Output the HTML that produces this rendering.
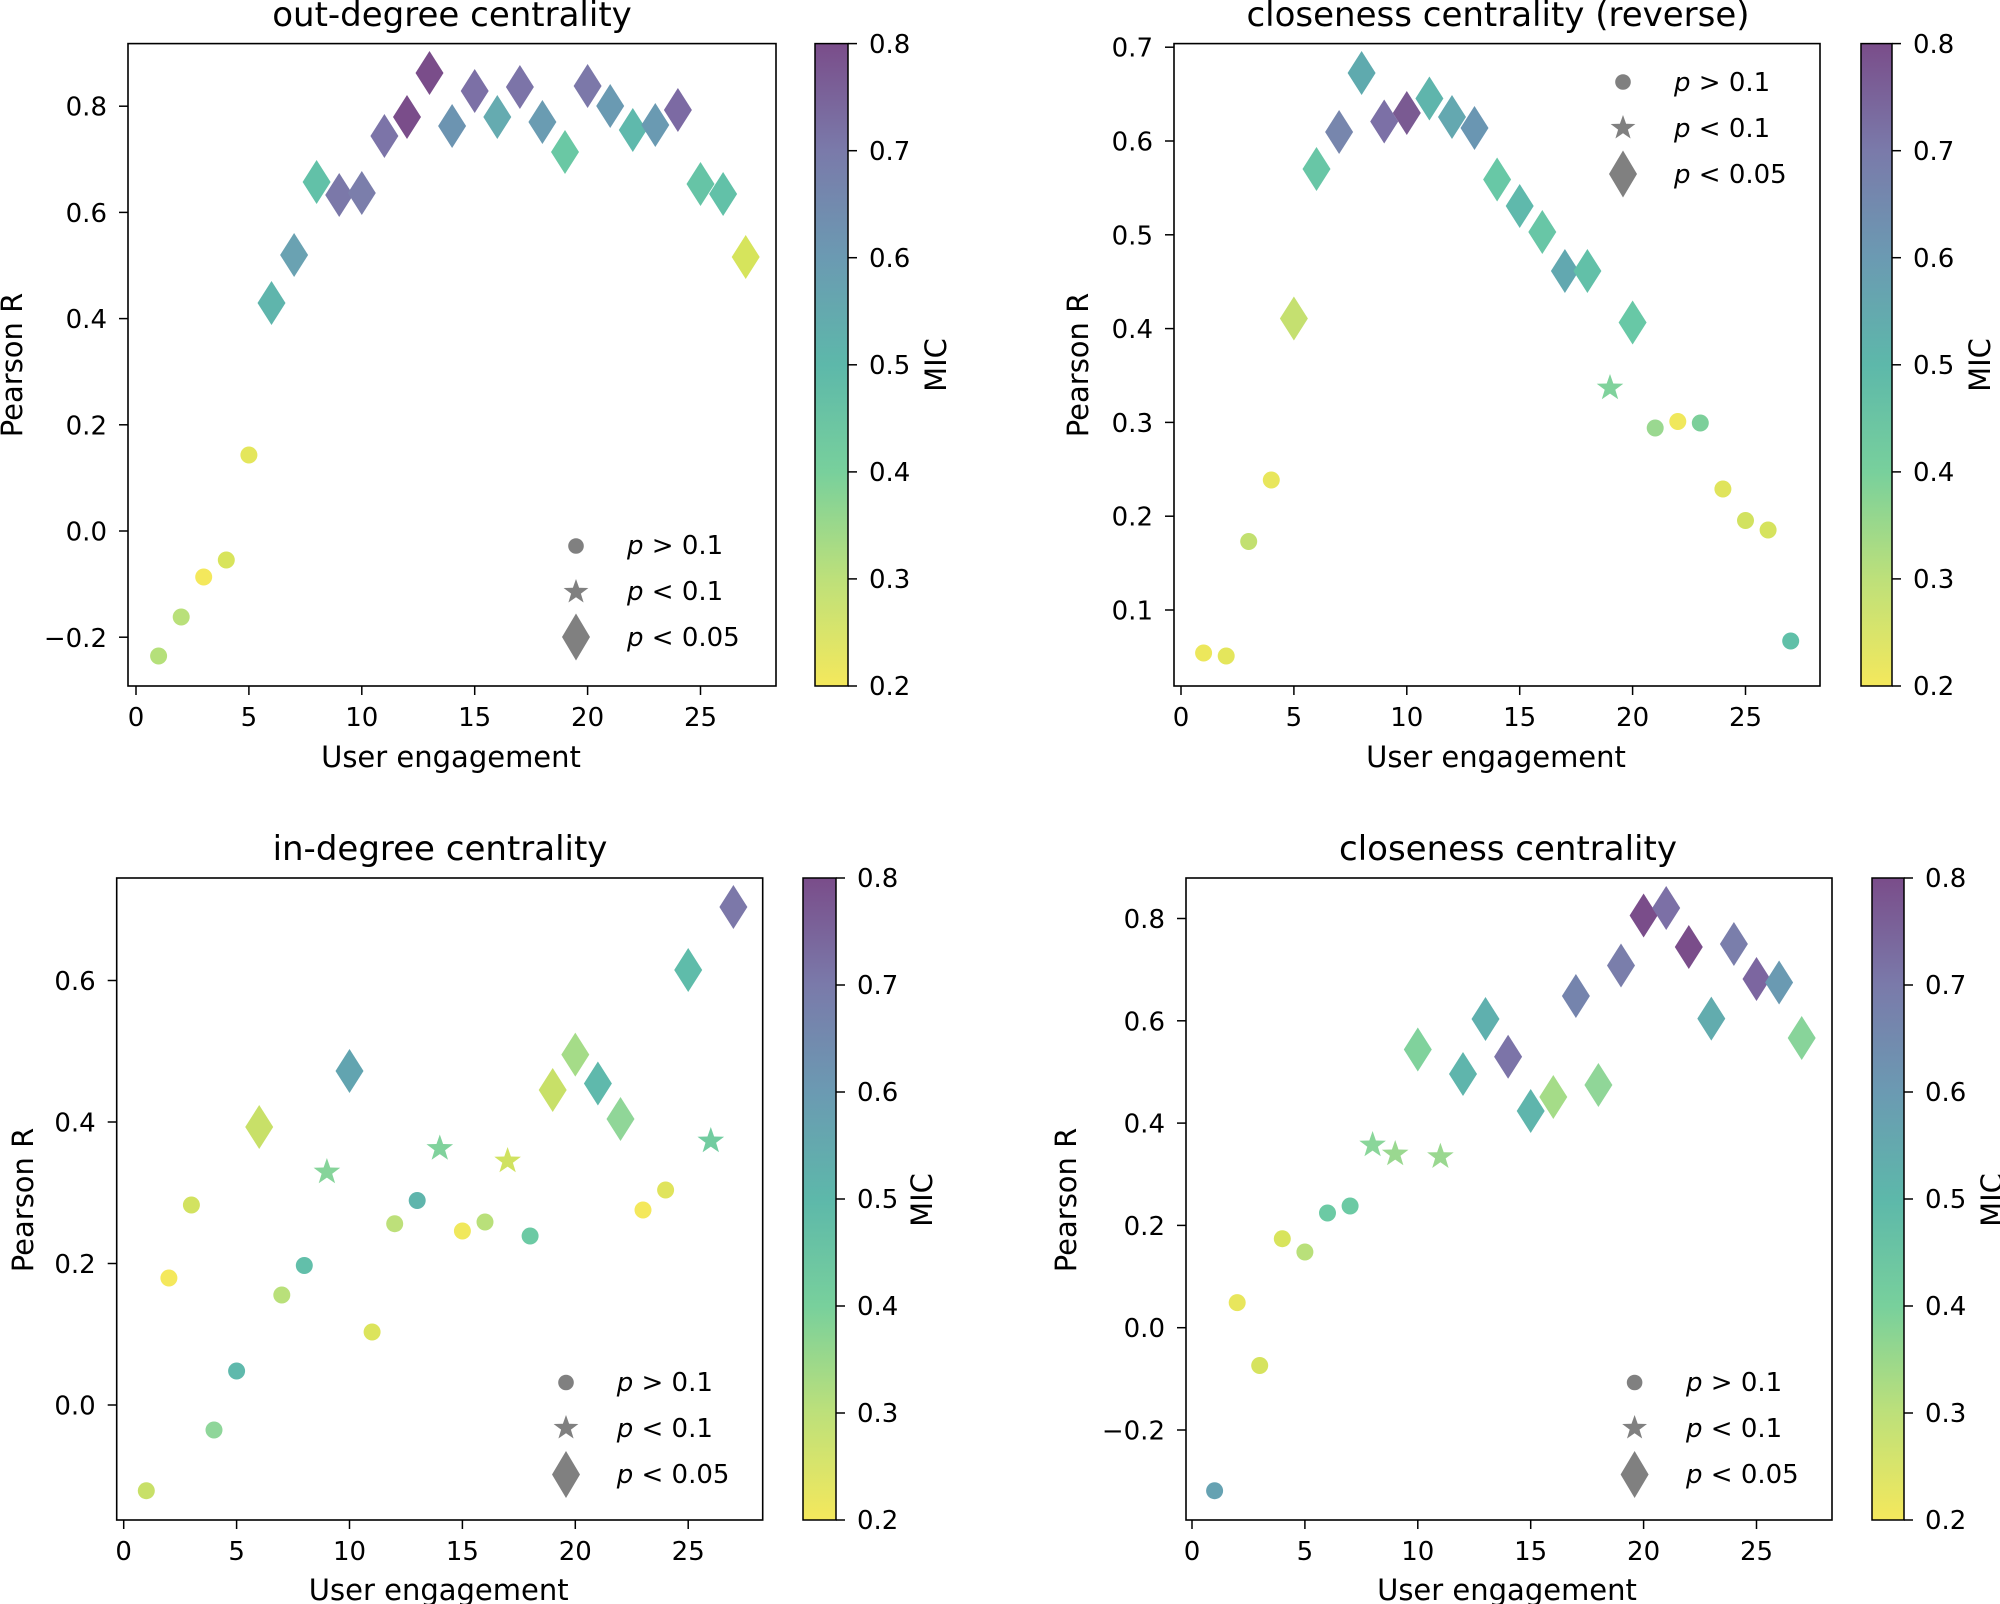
<!DOCTYPE html>
<html><head><meta charset="utf-8"><style>
html,body{margin:0;padding:0;background:#fff}
svg{display:block}
text{font-family:"DejaVu Sans","Liberation Sans",sans-serif;fill:#000}
.t{font-size:26px}
.l{font-size:29px}
.ti{font-size:34px}
.lg{font-size:26px}
</style></head><body>
<svg width="2000" height="1604" viewBox="0 0 2000 1604" xmlns="http://www.w3.org/2000/svg">
<defs>
<path id="d" d="M0,-22 L14,0 L0,22 L-14,0Z"/>
<path id="s" d="M0,-14 L3.3,-4.5 L13.3,-4.3 L5.3,1.7 L8.2,11.3 L0,5.6 L-8.2,11.3 L-5.3,1.7 L-13.3,-4.3 L-3.3,-4.5Z"/>
<circle id="c" r="8.5" cx="0" cy="0"/>
<circle id="lc" r="7.8" cx="0" cy="0"/>
<path id="ls" d="M0,-13 L3.1,-4.2 L12.4,-4 L4.9,1.6 L7.6,10.5 L0,5.2 L-7.6,10.5 L-4.9,1.6 L-12.4,-4 L-3.1,-4.2Z"/>
<path id="ld" d="M0,-23.5 L14,0 L0,23.5 L-14,0Z"/>
<linearGradient id="vir" x1="0" y1="1" x2="0" y2="0">
<stop offset="0" stop-color="#f4e85c"/>
<stop offset="0.167" stop-color="#bde07a"/>
<stop offset="0.333" stop-color="#78d09c"/>
<stop offset="0.5" stop-color="#5db8aa"/>
<stop offset="0.667" stop-color="#6b9ab2"/>
<stop offset="0.833" stop-color="#7a7aaa"/>
<stop offset="1" stop-color="#7a4d8a"/>
</linearGradient>
</defs>

<!-- ================= TL ================= -->
<text x="452" y="26" class="ti" text-anchor="middle">out-degree centrality</text>
<g transform="translate(136,0)">
<rect x="-8" y="43.6" width="648" height="642.4" fill="none" stroke="#000" stroke-width="1.6"/>
<g stroke="#000" stroke-width="1.5">
<line x1="-8" x2="-17" y1="637.2" y2="637.2"/><line x1="-8" x2="-17" y1="531" y2="531"/><line x1="-8" x2="-17" y1="424.8" y2="424.8"/><line x1="-8" x2="-17" y1="318.6" y2="318.6"/><line x1="-8" x2="-17" y1="212.4" y2="212.4"/><line x1="-8" x2="-17" y1="106.2" y2="106.2"/>
<line x1="0" x2="0" y1="686" y2="695"/><line x1="112.9" x2="112.9" y1="686" y2="695"/><line x1="225.8" x2="225.8" y1="686" y2="695"/><line x1="338.7" x2="338.7" y1="686" y2="695"/><line x1="451.6" x2="451.6" y1="686" y2="695"/><line x1="564.5" x2="564.5" y1="686" y2="695"/>
</g>
<g class="t" text-anchor="end">
<text x="-29" y="647">−0.2</text><text x="-29" y="540.5">0.0</text><text x="-29" y="434.5">0.2</text><text x="-29" y="328">0.4</text><text x="-29" y="222">0.6</text><text x="-29" y="115.5">0.8</text>
</g>
<g class="t" text-anchor="middle">
<text x="0" y="726">0</text><text x="112.9" y="726">5</text><text x="225.8" y="726">10</text><text x="338.7" y="726">15</text><text x="451.6" y="726">20</text><text x="564.5" y="726">25</text>
</g>
<text x="315" y="767" class="l" text-anchor="middle">User engagement</text>
<use href="#c" x="22.6" y="656" fill="#b5e07a"/>
<use href="#c" x="45.2" y="617" fill="#b9e07a"/>
<use href="#c" x="67.7" y="577" fill="#f4e85c"/>
<use href="#c" x="90.3" y="560" fill="#d8e45c"/>
<use href="#c" x="112.9" y="455" fill="#e4e65c"/>
<use href="#d" x="135.5" y="303" fill="#5fb5ac"/>
<use href="#d" x="158.1" y="255" fill="#6aa2b2"/>
<use href="#d" x="180.6" y="182" fill="#62c1a8"/>
<use href="#d" x="203.2" y="195" fill="#7b78a9"/>
<use href="#d" x="225.8" y="193" fill="#7b7eab"/>
<use href="#d" x="248.4" y="136" fill="#7c74a8"/>
<use href="#d" x="271" y="117" fill="#7a4d8a"/>
<use href="#d" x="293.5" y="73" fill="#7a4d8a"/>
<use href="#d" x="316.1" y="126" fill="#6c94b1"/>
<use href="#d" x="338.7" y="91" fill="#7c70a6"/>
<use href="#d" x="361.3" y="117" fill="#65abb0"/>
<use href="#d" x="383.9" y="87" fill="#7c74a8"/>
<use href="#d" x="406.4" y="122" fill="#6a9cb2"/>
<use href="#d" x="429" y="152" fill="#6ac8a4"/>
<use href="#d" x="451.6" y="86" fill="#7c78a9"/>
<use href="#d" x="474.2" y="106" fill="#6a9ab2"/>
<use href="#d" x="496.8" y="130" fill="#5fb9ac"/>
<use href="#d" x="519.3" y="125" fill="#6a9ab2"/>
<use href="#d" x="541.9" y="110" fill="#7c6aa3"/>
<use href="#d" x="564.5" y="184" fill="#66c4a6"/>
<use href="#d" x="587.1" y="194" fill="#62c1a8"/>
<use href="#d" x="609.7" y="257" fill="#d6e45c"/>
<g fill="#808080"><use href="#lc" x="440" y="546"/><use href="#ls" x="440" y="592"/><use href="#ld" x="440" y="637"/></g>
<g class="lg"><text x="491" y="554"><tspan font-style="italic">p</tspan> &gt; 0.1</text><text x="491" y="600"><tspan font-style="italic">p</tspan> &lt; 0.1</text><text x="491" y="646"><tspan font-style="italic">p</tspan> &lt; 0.05</text></g>
</g>
<text transform="translate(22,365) rotate(-90)" class="l" text-anchor="middle">Pearson R</text>
<rect x="815" y="43.6" width="33" height="642.4" fill="url(#vir)" stroke="#000" stroke-width="1.5"/>
<g stroke="#000" stroke-width="1.5"><line x1="848" x2="857" y1="43.6" y2="43.6"/><line x1="848" x2="857" y1="150.7" y2="150.7"/><line x1="848" x2="857" y1="257.7" y2="257.7"/><line x1="848" x2="857" y1="364.8" y2="364.8"/><line x1="848" x2="857" y1="471.9" y2="471.9"/><line x1="848" x2="857" y1="578.9" y2="578.9"/><line x1="848" x2="857" y1="686" y2="686"/></g>
<g class="t"><text x="869" y="53">0.8</text><text x="869" y="160">0.7</text><text x="869" y="267">0.6</text><text x="869" y="374">0.5</text><text x="869" y="481">0.4</text><text x="869" y="588">0.3</text><text x="869" y="695">0.2</text></g>
<text transform="translate(946,365) rotate(-90)" class="l" text-anchor="middle">MIC</text>

<!-- ================= TR ================= -->
<text x="1498" y="26" class="ti" text-anchor="middle">closeness centrality (reverse)</text>
<g transform="translate(1181,0)">
<rect x="-7" y="43.6" width="646" height="642.4" fill="none" stroke="#000" stroke-width="1.6"/>
<g stroke="#000" stroke-width="1.5">
<line x1="-7" x2="-16" y1="610" y2="610"/><line x1="-7" x2="-16" y1="516.2" y2="516.2"/><line x1="-7" x2="-16" y1="422.4" y2="422.4"/><line x1="-7" x2="-16" y1="328.6" y2="328.6"/><line x1="-7" x2="-16" y1="234.8" y2="234.8"/><line x1="-7" x2="-16" y1="141" y2="141"/><line x1="-7" x2="-16" y1="47.2" y2="47.2"/>
<line x1="0" x2="0" y1="686" y2="695"/><line x1="112.9" x2="112.9" y1="686" y2="695"/><line x1="225.8" x2="225.8" y1="686" y2="695"/><line x1="338.7" x2="338.7" y1="686" y2="695"/><line x1="451.6" x2="451.6" y1="686" y2="695"/><line x1="564.5" x2="564.5" y1="686" y2="695"/>
</g>
<g class="t" text-anchor="end">
<text x="-28" y="619.5">0.1</text><text x="-28" y="525.7">0.2</text><text x="-28" y="432">0.3</text><text x="-28" y="338">0.4</text><text x="-28" y="244.3">0.5</text><text x="-28" y="150.5">0.6</text><text x="-28" y="56.7">0.7</text>
</g>
<g class="t" text-anchor="middle">
<text x="0" y="726">0</text><text x="112.9" y="726">5</text><text x="225.8" y="726">10</text><text x="338.7" y="726">15</text><text x="451.6" y="726">20</text><text x="564.5" y="726">25</text>
</g>
<text x="315" y="767" class="l" text-anchor="middle">User engagement</text>
<use href="#c" x="22.6" y="653" fill="#ece75c"/>
<use href="#c" x="45.2" y="656" fill="#e4e65c"/>
<use href="#c" x="67.7" y="541.5" fill="#c2e070"/>
<use href="#c" x="90.3" y="480" fill="#e8e65c"/>
<use href="#d" x="112.9" y="318.5" fill="#c5e070"/>
<use href="#d" x="135.5" y="169" fill="#68c6a6"/>
<use href="#d" x="158.1" y="132" fill="#7786ad"/>
<use href="#d" x="180.6" y="73" fill="#5faaae"/>
<use href="#d" x="203.2" y="121.5" fill="#7c70a6"/>
<use href="#d" x="225.8" y="113" fill="#7a5a92"/>
<use href="#d" x="248.4" y="98.5" fill="#5fb5ac"/>
<use href="#d" x="271" y="117" fill="#64a8b0"/>
<use href="#d" x="293.5" y="128" fill="#6a96b2"/>
<use href="#d" x="316.1" y="179.5" fill="#68c8a6"/>
<use href="#d" x="338.7" y="206" fill="#5fb9ac"/>
<use href="#d" x="361.3" y="232" fill="#68c6a6"/>
<use href="#d" x="383.9" y="271" fill="#62a8b0"/>
<use href="#d" x="406.4" y="271" fill="#62c0a8"/>
<use href="#s" x="429" y="388" fill="#80d29c"/>
<use href="#d" x="451.6" y="322.5" fill="#68c8a6"/>
<use href="#c" x="474.2" y="428" fill="#9ad890"/>
<use href="#c" x="496.8" y="421.5" fill="#f0e85c"/>
<use href="#c" x="519.3" y="423" fill="#7ccf9a"/>
<use href="#c" x="541.9" y="489" fill="#e0e45c"/>
<use href="#c" x="564.5" y="520.5" fill="#d2e260"/>
<use href="#c" x="587.1" y="530" fill="#d6e35e"/>
<use href="#c" x="609.7" y="641" fill="#60c0a8"/>
<g fill="#808080"><use href="#lc" x="442" y="82"/><use href="#ls" x="442" y="128"/><use href="#ld" x="442" y="174"/></g>
<g class="lg"><text x="493" y="91"><tspan font-style="italic">p</tspan> &gt; 0.1</text><text x="493" y="137"><tspan font-style="italic">p</tspan> &lt; 0.1</text><text x="493" y="183"><tspan font-style="italic">p</tspan> &lt; 0.05</text></g>
</g>
<text transform="translate(1088,365) rotate(-90)" class="l" text-anchor="middle">Pearson R</text>
<rect x="1861" y="43.6" width="31" height="642.4" fill="url(#vir)" stroke="#000" stroke-width="1.5"/>
<g stroke="#000" stroke-width="1.5"><line x1="1892" x2="1901" y1="43.6" y2="43.6"/><line x1="1892" x2="1901" y1="150.7" y2="150.7"/><line x1="1892" x2="1901" y1="257.7" y2="257.7"/><line x1="1892" x2="1901" y1="364.8" y2="364.8"/><line x1="1892" x2="1901" y1="471.9" y2="471.9"/><line x1="1892" x2="1901" y1="578.9" y2="578.9"/><line x1="1892" x2="1901" y1="686" y2="686"/></g>
<g class="t"><text x="1913" y="53">0.8</text><text x="1913" y="160">0.7</text><text x="1913" y="267">0.6</text><text x="1913" y="374">0.5</text><text x="1913" y="481">0.4</text><text x="1913" y="588">0.3</text><text x="1913" y="695">0.2</text></g>
<text transform="translate(1990,365) rotate(-90)" class="l" text-anchor="middle">MIC</text>

<!-- ================= BL ================= -->
<text x="440" y="860" class="ti" text-anchor="middle">in-degree centrality</text>
<g transform="translate(123.7,0)">
<rect x="-7" y="878" width="646" height="642" fill="none" stroke="#000" stroke-width="1.6"/>
<g stroke="#000" stroke-width="1.5">
<line x1="-7" x2="-16" y1="1405" y2="1405"/><line x1="-7" x2="-16" y1="1263.5" y2="1263.5"/><line x1="-7" x2="-16" y1="1122" y2="1122"/><line x1="-7" x2="-16" y1="980.5" y2="980.5"/>
<line x1="0" x2="0" y1="1520" y2="1529"/><line x1="112.9" x2="112.9" y1="1520" y2="1529"/><line x1="225.8" x2="225.8" y1="1520" y2="1529"/><line x1="338.7" x2="338.7" y1="1520" y2="1529"/><line x1="451.6" x2="451.6" y1="1520" y2="1529"/><line x1="564.5" x2="564.5" y1="1520" y2="1529"/>
</g>
<g class="t" text-anchor="end">
<text x="-28" y="1414.5">0.0</text><text x="-28" y="1273">0.2</text><text x="-28" y="1131.5">0.4</text><text x="-28" y="990">0.6</text>
</g>
<g class="t" text-anchor="middle">
<text x="0" y="1560">0</text><text x="112.9" y="1560">5</text><text x="225.8" y="1560">10</text><text x="338.7" y="1560">15</text><text x="451.6" y="1560">20</text><text x="564.5" y="1560">25</text>
</g>
<text x="315" y="1600" class="l" text-anchor="middle">User engagement</text>
<use href="#c" x="22.6" y="1490.7" fill="#c8e068"/>
<use href="#c" x="45.2" y="1278" fill="#f4e85c"/>
<use href="#c" x="67.7" y="1205" fill="#d2e260"/>
<use href="#c" x="90.3" y="1430" fill="#8fd69a"/>
<use href="#c" x="112.9" y="1371" fill="#5fb9ac"/>
<use href="#d" x="135.5" y="1127" fill="#c8e068"/>
<use href="#c" x="158.1" y="1295" fill="#b9e07a"/>
<use href="#c" x="180.6" y="1265.5" fill="#62bfaa"/>
<use href="#s" x="203.2" y="1172" fill="#86d49a"/>
<use href="#d" x="225.8" y="1071" fill="#62a4b0"/>
<use href="#c" x="248.4" y="1332" fill="#dce45c"/>
<use href="#c" x="271" y="1223.7" fill="#bde07a"/>
<use href="#c" x="293.5" y="1200.5" fill="#5fb5ac"/>
<use href="#s" x="316.1" y="1148.5" fill="#80d29c"/>
<use href="#c" x="338.7" y="1231" fill="#f0e85c"/>
<use href="#c" x="361.3" y="1222" fill="#b9e07a"/>
<use href="#s" x="383.9" y="1161" fill="#d0e260"/>
<use href="#c" x="406.4" y="1236" fill="#6ccaa4"/>
<use href="#d" x="429" y="1090" fill="#c8e068"/>
<use href="#d" x="451.6" y="1054.6" fill="#a5dc88"/>
<use href="#d" x="474.2" y="1083.5" fill="#5fb9ac"/>
<use href="#d" x="496.8" y="1119" fill="#90d698"/>
<use href="#c" x="519.3" y="1210" fill="#f4e85c"/>
<use href="#c" x="541.9" y="1190" fill="#e0e45c"/>
<use href="#d" x="564.5" y="970" fill="#5fbcaa"/>
<use href="#s" x="587.1" y="1141" fill="#72cca0"/>
<use href="#d" x="609.7" y="907" fill="#7c78a9"/>
<g fill="#808080"><use href="#lc" x="442.3" y="1382.5"/><use href="#ls" x="442.3" y="1428"/><use href="#ld" x="442.3" y="1474.5"/></g>
<g class="lg"><text x="493" y="1391"><tspan font-style="italic">p</tspan> &gt; 0.1</text><text x="493" y="1437"><tspan font-style="italic">p</tspan> &lt; 0.1</text><text x="493" y="1483"><tspan font-style="italic">p</tspan> &lt; 0.05</text></g>
</g>
<text transform="translate(33,1200) rotate(-90)" class="l" text-anchor="middle">Pearson R</text>
<rect x="803" y="878" width="33" height="642" fill="url(#vir)" stroke="#000" stroke-width="1.5"/>
<g stroke="#000" stroke-width="1.5"><line x1="836" x2="845" y1="878" y2="878"/><line x1="836" x2="845" y1="985" y2="985"/><line x1="836" x2="845" y1="1092" y2="1092"/><line x1="836" x2="845" y1="1199" y2="1199"/><line x1="836" x2="845" y1="1306" y2="1306"/><line x1="836" x2="845" y1="1413" y2="1413"/><line x1="836" x2="845" y1="1520" y2="1520"/></g>
<g class="t"><text x="857" y="887">0.8</text><text x="857" y="994">0.7</text><text x="857" y="1101">0.6</text><text x="857" y="1208">0.5</text><text x="857" y="1315">0.4</text><text x="857" y="1422">0.3</text><text x="857" y="1529">0.2</text></g>
<text transform="translate(932,1200) rotate(-90)" class="l" text-anchor="middle">MIC</text>

<!-- ================= BR ================= -->
<text x="1508" y="860" class="ti" text-anchor="middle">closeness centrality</text>
<g transform="translate(1192,0)">
<rect x="-6" y="878" width="646" height="642" fill="none" stroke="#000" stroke-width="1.6"/>
<g stroke="#000" stroke-width="1.5">
<line x1="-6" x2="-15" y1="1430" y2="1430"/><line x1="-6" x2="-15" y1="1327.7" y2="1327.7"/><line x1="-6" x2="-15" y1="1225.4" y2="1225.4"/><line x1="-6" x2="-15" y1="1123.1" y2="1123.1"/><line x1="-6" x2="-15" y1="1020.8" y2="1020.8"/><line x1="-6" x2="-15" y1="918.5" y2="918.5"/>
<line x1="0" x2="0" y1="1520" y2="1529"/><line x1="112.9" x2="112.9" y1="1520" y2="1529"/><line x1="225.8" x2="225.8" y1="1520" y2="1529"/><line x1="338.7" x2="338.7" y1="1520" y2="1529"/><line x1="451.6" x2="451.6" y1="1520" y2="1529"/><line x1="564.5" x2="564.5" y1="1520" y2="1529"/>
</g>
<g class="t" text-anchor="end">
<text x="-27" y="1439.5">−0.2</text><text x="-27" y="1337">0.0</text><text x="-27" y="1235">0.2</text><text x="-27" y="1132.5">0.4</text><text x="-27" y="1030.3">0.6</text><text x="-27" y="928">0.8</text>
</g>
<g class="t" text-anchor="middle">
<text x="0" y="1560">0</text><text x="112.9" y="1560">5</text><text x="225.8" y="1560">10</text><text x="338.7" y="1560">15</text><text x="451.6" y="1560">20</text><text x="564.5" y="1560">25</text>
</g>
<text x="315" y="1600" class="l" text-anchor="middle">User engagement</text>
<use href="#c" x="22.6" y="1490.7" fill="#66a2b2"/>
<use href="#c" x="45.2" y="1302.6" fill="#e8e65c"/>
<use href="#c" x="67.7" y="1365.5" fill="#d6e35e"/>
<use href="#c" x="90.3" y="1238.7" fill="#d8e45c"/>
<use href="#c" x="112.9" y="1252" fill="#b9e07a"/>
<use href="#c" x="135.5" y="1213" fill="#6ccaa4"/>
<use href="#c" x="158.1" y="1206" fill="#6ccaa4"/>
<use href="#s" x="180.6" y="1145" fill="#8ad69a"/>
<use href="#s" x="203.2" y="1154" fill="#9ad890"/>
<use href="#d" x="225.8" y="1049.5" fill="#80d29c"/>
<use href="#s" x="248.4" y="1156.7" fill="#9ad890"/>
<use href="#d" x="271" y="1074" fill="#5fb5ac"/>
<use href="#d" x="293.5" y="1019" fill="#5fb0ae"/>
<use href="#d" x="316.1" y="1056.7" fill="#7c74a8"/>
<use href="#d" x="338.7" y="1111" fill="#5fb5ac"/>
<use href="#d" x="361.3" y="1097" fill="#a5dc88"/>
<use href="#d" x="383.9" y="996" fill="#7584ad"/>
<use href="#d" x="406.4" y="1085" fill="#90d698"/>
<use href="#d" x="429" y="965.5" fill="#7a7eab"/>
<use href="#d" x="451.6" y="915.5" fill="#7a4d8a"/>
<use href="#d" x="474.2" y="908" fill="#7c70a6"/>
<use href="#d" x="496.8" y="947" fill="#7a4d8a"/>
<use href="#d" x="519.3" y="1018.6" fill="#62acae"/>
<use href="#d" x="541.9" y="944" fill="#7a7eab"/>
<use href="#d" x="564.5" y="979" fill="#7c66a0"/>
<use href="#d" x="587.1" y="982.5" fill="#6a9ab2"/>
<use href="#d" x="609.7" y="1038" fill="#88d49a"/>
<g fill="#808080"><use href="#lc" x="442.6" y="1382.5"/><use href="#ls" x="442.6" y="1428"/><use href="#ld" x="442.6" y="1474.5"/></g>
<g class="lg"><text x="494" y="1391"><tspan font-style="italic">p</tspan> &gt; 0.1</text><text x="494" y="1437"><tspan font-style="italic">p</tspan> &lt; 0.1</text><text x="494" y="1483"><tspan font-style="italic">p</tspan> &lt; 0.05</text></g>
</g>
<text transform="translate(1076,1200) rotate(-90)" class="l" text-anchor="middle">Pearson R</text>
<rect x="1872" y="878" width="32" height="642" fill="url(#vir)" stroke="#000" stroke-width="1.5"/>
<g stroke="#000" stroke-width="1.5"><line x1="1904" x2="1913" y1="878" y2="878"/><line x1="1904" x2="1913" y1="985" y2="985"/><line x1="1904" x2="1913" y1="1092" y2="1092"/><line x1="1904" x2="1913" y1="1199" y2="1199"/><line x1="1904" x2="1913" y1="1306" y2="1306"/><line x1="1904" x2="1913" y1="1413" y2="1413"/><line x1="1904" x2="1913" y1="1520" y2="1520"/></g>
<g class="t"><text x="1925" y="887">0.8</text><text x="1925" y="994">0.7</text><text x="1925" y="1101">0.6</text><text x="1925" y="1208">0.5</text><text x="1925" y="1315">0.4</text><text x="1925" y="1422">0.3</text><text x="1925" y="1529">0.2</text></g>
<text transform="translate(2002,1200) rotate(-90)" class="l" text-anchor="middle">MIC</text>
</svg>
</body></html>
